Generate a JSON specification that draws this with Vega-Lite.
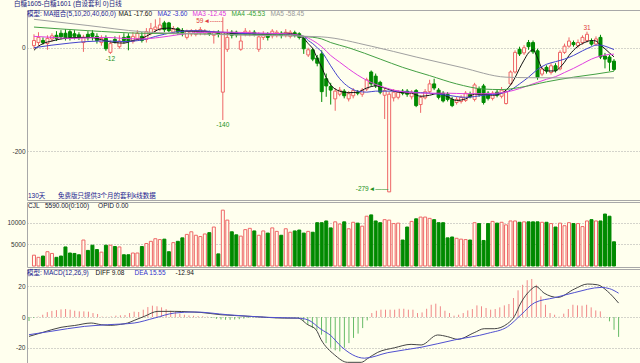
{
"$schema": "https://vega.github.io/schema/vega-lite/v6.json",
"autosize": {"type": "pad"},
"padding": {"left": 6, "top": 1, "right": 0, "bottom": 0},
"background": "#FFFFEE",
"title": {"text": "白糖1605-白糖1601 (自设套利 0)日线", "anchor": "start", "frame": "group", "dx": -13, "offset": 2, "fontSize": 6.5, "fontWeight": "normal", "color": "#1a1a80", "font": "Liberation Sans, Noto Sans CJK SC"},
"spacing": 0,
"resolve": {"scale": {"y": "independent", "color": "independent"}, "legend": {"color": "independent"}},
"datasets": {
"k": [
{"i":0,"o":4,"c":14,"h":26,"l":-2,"v":2500,"m":-2.6},
{"i":1,"o":10,"c":20,"h":30,"l":4,"v":2000,"m":-0.5},
{"i":2,"o":14,"c":10,"h":20,"l":6,"v":2300,"m":0.3},
{"i":3,"o":8,"c":18,"h":24,"l":-4,"v":3300,"m":1.5},
{"i":4,"o":17,"c":23,"h":28,"l":12,"v":2900,"m":3.2},
{"i":5,"o":24,"c":18,"h":32,"l":13,"v":2000,"m":4},
{"i":6,"o":28,"c":21,"h":34,"l":16,"v":2300,"m":4.5},
{"i":7,"o":28,"c":19,"h":36,"l":14,"v":4400,"m":5},
{"i":8,"o":31,"c":20,"h":35,"l":14,"v":3000,"m":5.2},
{"i":9,"o":27,"c":22,"h":34,"l":16,"v":2900,"m":4.8},
{"i":10,"o":25,"c":20,"h":30,"l":15,"v":2600,"m":4.1},
{"i":11,"o":10,"c":20,"h":25,"l":-8,"v":6000,"m":3.7},
{"i":12,"o":26,"c":19,"h":32,"l":14,"v":3600,"m":3.7},
{"i":13,"o":28,"c":22,"h":34,"l":14,"v":4800,"m":3.5},
{"i":14,"o":22,"c":14,"h":28,"l":8,"v":3800,"m":2.6},
{"i":15,"o":10,"c":18,"h":24,"l":4,"v":3200,"m":2.0},
{"i":16,"o":18,"c":-2,"h":24,"l":-6,"v":4800,"m":0.3},
{"i":17,"o":-9,"c":8,"h":14,"l":-12,"v":4800,"m":0.2},
{"i":18,"o":16,"c":12,"h":22,"l":8,"v":4500,"m":0.4},
{"i":19,"o":2,"c":13,"h":24,"l":-2,"v":4400,"m":0.9},
{"i":20,"o":20,"c":14,"h":28,"l":8,"v":2600,"m":1.1},
{"i":21,"o":22,"c":12,"h":28,"l":-5,"v":2600,"m":1.3},
{"i":22,"o":12,"c":22,"h":30,"l":8,"v":3000,"m":2.6},
{"i":23,"o":18,"c":28,"h":34,"l":14,"v":3000,"m":3.5},
{"i":24,"o":22,"c":14,"h":30,"l":10,"v":4500,"m":3.3},
{"i":25,"o":16,"c":31,"h":38,"l":10,"v":5200,"m":4.8},
{"i":26,"o":28,"c":37,"h":48,"l":24,"v":5700,"m":6.5},
{"i":27,"o":35,"c":40,"h":55,"l":30,"v":6300,"m":7.4},
{"i":28,"o":36,"c":44,"h":58,"l":32,"v":6100,"m":7},
{"i":29,"o":48,"c":35,"h":52,"l":30,"v":6200,"m":6.3},
{"i":30,"o":48,"c":33,"h":50,"l":30,"v":3300,"m":5.2},
{"i":31,"o":30,"c":36,"h":42,"l":26,"v":5400,"m":4.1},
{"i":32,"o":37,"c":30,"h":40,"l":25,"v":5700,"m":3.3},
{"i":33,"o":33,"c":27,"h":38,"l":22,"v":6500,"m":2.2},
{"i":34,"o":20,"c":32,"h":35,"l":16,"v":7300,"m":1.5},
{"i":35,"o":27,"c":33,"h":36,"l":22,"v":7900,"m":1},
{"i":36,"o":26,"c":32,"h":36,"l":22,"v":7100,"m":0.8},
{"i":37,"o":29,"c":35,"h":40,"l":24,"v":6800,"m":0.6},
{"i":38,"o":28,"c":32,"h":36,"l":24,"v":7400,"m":0.5},
{"i":39,"o":30,"c":27,"h":33,"l":23,"v":7700,"m":0.3},
{"i":40,"o":24,"c":30,"h":33,"l":8,"v":9000,"m":-0.5},
{"i":41,"o":30,"c":26,"h":34,"l":20,"v":2800,"m":-1.2},
{"i":42,"o":-86,"c":30,"h":59,"l":-140,"v":12900,"m":-1.6},
{"i":43,"o":-3,"c":20,"h":36,"l":-8,"v":10600,"m":-1.8},
{"i":44,"o":30,"c":24,"h":34,"l":18,"v":7900,"m":-1.8},
{"i":45,"o":30,"c":25,"h":33,"l":20,"v":7200,"m":-1.6},
{"i":46,"o":-3,"c":13,"h":30,"l":-6,"v":6900,"m":-1.4},
{"i":47,"o":26,"c":32,"h":38,"l":22,"v":8400,"m":-1.0},
{"i":48,"o":27,"c":30,"h":34,"l":22,"v":8700,"m":-0.5},
{"i":49,"o":30,"c":26,"h":34,"l":22,"v":8100,"m":-0.3},
{"i":50,"o":-3,"c":21,"h":30,"l":-8,"v":7100,"m":0.2},
{"i":51,"o":20,"c":26,"h":32,"l":15,"v":8100,"m":0.3},
{"i":52,"o":27,"c":20,"h":30,"l":14,"v":7600,"m":-0.3},
{"i":53,"o":23,"c":32,"h":36,"l":18,"v":8800,"m":-0.6},
{"i":54,"o":24,"c":30,"h":34,"l":20,"v":8000,"m":-0.8},
{"i":55,"o":28,"c":24,"h":32,"l":18,"v":7100,"m":-0.5},
{"i":56,"o":24,"c":30,"h":36,"l":20,"v":8600,"m":-0.3},
{"i":57,"o":22,"c":30,"h":34,"l":18,"v":7800,"m":-0.2},
{"i":58,"o":29,"c":24,"h":33,"l":20,"v":8100,"m":-0.3},
{"i":59,"o":27,"c":20,"h":30,"l":16,"v":8300,"m":-0.6},
{"i":60,"o":18,"c":-2,"h":22,"l":-12,"v":7600,"m":-2.5},
{"i":61,"o":-14,"c":-4,"h":0,"l":-18,"v":8000,"m":-5},
{"i":62,"o":-4,"c":-22,"h":0,"l":-26,"v":7800,"m":-7.2},
{"i":63,"o":-20,"c":-30,"h":-14,"l":-36,"v":10000,"m":-8.3},
{"i":64,"o":-12,"c":-85,"h":-5,"l":-105,"v":10000,"m":-11.5},
{"i":65,"o":-60,"c":-74,"h":-50,"l":-95,"v":10400,"m":-17},
{"i":66,"o":-75,"c":-82,"h":-68,"l":-110,"v":8800,"m":-20},
{"i":67,"o":-99,"c":-84,"h":-78,"l":-122,"v":10200,"m":-21.7},
{"i":68,"o":-90,"c":-82,"h":-76,"l":-94,"v":9700,"m":-22.4},
{"i":69,"o":-84,"c":-93,"h":-80,"l":-98,"v":10200,"m":-20},
{"i":70,"o":-99,"c":-89,"h":-84,"l":-104,"v":8600,"m":-17},
{"i":71,"o":-93,"c":-83,"h":-78,"l":-98,"v":10100,"m":-13.6},
{"i":72,"o":-86,"c":-88,"h":-82,"l":-92,"v":9900,"m":-10.8},
{"i":73,"o":-90,"c":-82,"h":-78,"l":-95,"v":9200,"m":-7.2},
{"i":74,"o":-80,"c":-62,"h":-58,"l":-84,"v":11500,"m":-2.2},
{"i":75,"o":-47,"c":-70,"h":-44,"l":-74,"v":11800,"m":2.6},
{"i":76,"o":-55,"c":-73,"h":-50,"l":-78,"v":10400,"m":4.1},
{"i":77,"o":-67,"c":-86,"h":-64,"l":-90,"v":10000,"m":4.8},
{"i":78,"o":-92,"c":-83,"h":-78,"l":-138,"v":10700,"m":4.8},
{"i":79,"o":-279,"c":-90,"h":-85,"l":-279,"v":10600,"m":4.8},
{"i":80,"o":-97,"c":-86,"h":-80,"l":-104,"v":9800,"m":4.8},
{"i":81,"o":-96,"c":-86,"h":-82,"l":-100,"v":9900,"m":5.4},
{"i":82,"o":-84,"c":-88,"h":-80,"l":-92,"v":6000,"m":5.4},
{"i":83,"o":-84,"c":-90,"h":-80,"l":-95,"v":9000,"m":4.8},
{"i":84,"o":-95,"c":-86,"h":-82,"l":-100,"v":10300,"m":4.8},
{"i":85,"o":-83,"c":-112,"h":-80,"l":-115,"v":10900,"m":2.6},
{"i":86,"o":-110,"c":-96,"h":-92,"l":-126,"v":11300,"m":3},
{"i":87,"o":-97,"c":-85,"h":-80,"l":-100,"v":11300,"m":5.4},
{"i":88,"o":-85,"c":-70,"h":-62,"l":-88,"v":11000,"m":8},
{"i":89,"o":-70,"c":-78,"h":-60,"l":-82,"v":10700,"m":8.7},
{"i":90,"o":-82,"c":-96,"h":-78,"l":-100,"v":10000,"m":7},
{"i":91,"o":-88,"c":-103,"h":-84,"l":-106,"v":10000,"m":4.1},
{"i":92,"o":-90,"c":-100,"h":-86,"l":-104,"v":6500,"m":2.6},
{"i":93,"o":-100,"c":-112,"h":-95,"l":-115,"v":6700,"m":0.9},
{"i":94,"o":-106,"c":-100,"h":-95,"l":-110,"v":6400,"m":1.5},
{"i":95,"o":-104,"c":-96,"h":-92,"l":-108,"v":6200,"m":2.6},
{"i":96,"o":-102,"c":-88,"h":-84,"l":-105,"v":6100,"m":4.3},
{"i":97,"o":-90,"c":-95,"h":-85,"l":-98,"v":6000,"m":5.2},
{"i":98,"o":-100,"c":-72,"h":-68,"l":-104,"v":10000,"m":7.6},
{"i":99,"o":-80,"c":-90,"h":-75,"l":-95,"v":9800,"m":7},
{"i":100,"o":-74,"c":-106,"h":-70,"l":-110,"v":5900,"m":5.9},
{"i":101,"o":-88,"c":-98,"h":-84,"l":-102,"v":9800,"m":4.8},
{"i":102,"o":-98,"c":-88,"h":-84,"l":-102,"v":10300,"m":5.2},
{"i":103,"o":-86,"c":-92,"h":-80,"l":-96,"v":9900,"m":6.3},
{"i":104,"o":-94,"c":-82,"h":-76,"l":-98,"v":10100,"m":7.6},
{"i":105,"o":-108,"c":-85,"h":-80,"l":-110,"v":9500,"m":8.5},
{"i":106,"o":-70,"c":-47,"h":-44,"l":-72,"v":10400,"m":12.4},
{"i":107,"o":-47,"c":-9,"h":-5,"l":-50,"v":10400,"m":17.4},
{"i":108,"o":-3,"c":-12,"h":2,"l":-16,"v":10100,"m":21},
{"i":109,"o":-10,"c":0,"h":5,"l":-14,"v":10200,"m":24},
{"i":110,"o":10,"c":2,"h":15,"l":-4,"v":10200,"m":24.8},
{"i":111,"o":10,"c":-8,"h":14,"l":-12,"v":10200,"m":21},
{"i":112,"o":-6,"c":-57,"h":-2,"l":-62,"v":10200,"m":13.5},
{"i":113,"o":-51,"c":-41,"h":-36,"l":-55,"v":10100,"m":8},
{"i":114,"o":-38,"c":-45,"h":-34,"l":-50,"v":10100,"m":2.6},
{"i":115,"o":-48,"c":-35,"h":-30,"l":-52,"v":9800,"m":1.5},
{"i":116,"o":-35,"c":-44,"h":-30,"l":-48,"v":9000,"m":0.2},
{"i":117,"o":-41,"c":-9,"h":-5,"l":-44,"v":9900,"m":2.2},
{"i":118,"o":-9,"c":3,"h":8,"l":-12,"v":9300,"m":5.2},
{"i":119,"o":3,"c":13,"h":20,"l":0,"v":10000,"m":8},
{"i":120,"o":10,"c":6,"h":14,"l":2,"v":9800,"m":7.6},
{"i":121,"o":4,"c":10,"h":16,"l":0,"v":9800,"m":7.4},
{"i":122,"o":10,"c":20,"h":24,"l":6,"v":9100,"m":8},
{"i":123,"o":14,"c":26,"h":31,"l":10,"v":10400,"m":6.3},
{"i":124,"o":12,"c":7,"h":18,"l":4,"v":10700,"m":4.3},
{"i":125,"o":7,"c":17,"h":22,"l":4,"v":10400,"m":3.7},
{"i":126,"o":20,"c":-18,"h":25,"l":-22,"v":10400,"m":0.1},
{"i":127,"o":-16,"c":-22,"h":-10,"l":-40,"v":12000,"m":-2.8},
{"i":128,"o":-18,"c":-28,"h":-14,"l":-45,"v":11500,"m":-8.3},
{"i":129,"o":-26,"c":-42,"h":-22,"l":-45,"v":5590,"m":-12.94}
],
"ma": [
{"i":0,"k":"MA1","v":-5},{"i":1,"k":"MA1","v":3},{"i":2,"k":"MA1","v":8},{"i":4,"k":"MA1","v":13},{"i":6,"k":"MA1","v":17},{"i":8,"k":"MA1","v":19},{"i":10,"k":"MA1","v":20},{"i":12,"k":"MA1","v":20},{"i":14,"k":"MA1","v":18},{"i":16,"k":"MA1","v":13},{"i":18,"k":"MA1","v":10},{"i":20,"k":"MA1","v":9},{"i":22,"k":"MA1","v":14},{"i":24,"k":"MA1","v":18},{"i":26,"k":"MA1","v":27},{"i":28,"k":"MA1","v":36},{"i":30,"k":"MA1","v":38},{"i":32,"k":"MA1","v":35},{"i":34,"k":"MA1","v":32},{"i":36,"k":"MA1","v":32},{"i":38,"k":"MA1","v":32},{"i":40,"k":"MA1","v":30},{"i":42,"k":"MA1","v":29},{"i":44,"k":"MA1","v":28},{"i":46,"k":"MA1","v":27},{"i":48,"k":"MA1","v":27},{"i":50,"k":"MA1","v":26},{"i":52,"k":"MA1","v":26},{"i":54,"k":"MA1","v":27},{"i":56,"k":"MA1","v":28},{"i":58,"k":"MA1","v":26},{"i":59,"k":"MA1","v":22},{"i":60,"k":"MA1","v":18},{"i":61,"k":"MA1","v":8},{"i":62,"k":"MA1","v":-2},{"i":63,"k":"MA1","v":-20},{"i":64,"k":"MA1","v":-38},{"i":65,"k":"MA1","v":-58},{"i":66,"k":"MA1","v":-72},{"i":67,"k":"MA1","v":-80},{"i":68,"k":"MA1","v":-84},{"i":70,"k":"MA1","v":-87},{"i":72,"k":"MA1","v":-86},{"i":74,"k":"MA1","v":-78},{"i":76,"k":"MA1","v":-74},{"i":78,"k":"MA1","v":-78},{"i":80,"k":"MA1","v":-84},{"i":82,"k":"MA1","v":-87},{"i":84,"k":"MA1","v":-88},{"i":86,"k":"MA1","v":-94},{"i":88,"k":"MA1","v":-92},{"i":90,"k":"MA1","v":-88},{"i":92,"k":"MA1","v":-95},{"i":94,"k":"MA1","v":-102},{"i":96,"k":"MA1","v":-99},{"i":98,"k":"MA1","v":-90},{"i":100,"k":"MA1","v":-90},{"i":102,"k":"MA1","v":-92},{"i":104,"k":"MA1","v":-88},{"i":105,"k":"MA1","v":-82},{"i":106,"k":"MA1","v":-72},{"i":107,"k":"MA1","v":-58},{"i":108,"k":"MA1","v":-40},{"i":109,"k":"MA1","v":-24},{"i":110,"k":"MA1","v":-10},{"i":111,"k":"MA1","v":-4},{"i":112,"k":"MA1","v":-20},{"i":113,"k":"MA1","v":-40},{"i":114,"k":"MA1","v":-45},{"i":116,"k":"MA1","v":-45},{"i":117,"k":"MA1","v":-38},{"i":118,"k":"MA1","v":-28},{"i":119,"k":"MA1","v":-15},{"i":120,"k":"MA1","v":-5},{"i":121,"k":"MA1","v":3},{"i":122,"k":"MA1","v":8},{"i":123,"k":"MA1","v":12},{"i":124,"k":"MA1","v":14},{"i":125,"k":"MA1","v":13},{"i":126,"k":"MA1","v":5},{"i":127,"k":"MA1","v":-2},{"i":128,"k":"MA1","v":-10},{"i":129,"k":"MA1","v":-17.6},
{"i":0,"k":"MA2","v":0},{"i":4,"k":"MA2","v":5},{"i":8,"k":"MA2","v":9},{"i":12,"k":"MA2","v":12},{"i":16,"k":"MA2","v":13},{"i":20,"k":"MA2","v":12},{"i":24,"k":"MA2","v":15},{"i":28,"k":"MA2","v":24},{"i":32,"k":"MA2","v":31},{"i":36,"k":"MA2","v":33},{"i":40,"k":"MA2","v":31},{"i":44,"k":"MA2","v":29},{"i":48,"k":"MA2","v":27},{"i":52,"k":"MA2","v":27},{"i":56,"k":"MA2","v":26},{"i":60,"k":"MA2","v":22},{"i":61,"k":"MA2","v":14},{"i":62,"k":"MA2","v":8},{"i":63,"k":"MA2","v":0},{"i":64,"k":"MA2","v":-8},{"i":66,"k":"MA2","v":-35},{"i":68,"k":"MA2","v":-60},{"i":70,"k":"MA2","v":-76},{"i":72,"k":"MA2","v":-84},{"i":74,"k":"MA2","v":-86},{"i":76,"k":"MA2","v":-84},{"i":80,"k":"MA2","v":-84},{"i":84,"k":"MA2","v":-86},{"i":88,"k":"MA2","v":-88},{"i":92,"k":"MA2","v":-92},{"i":96,"k":"MA2","v":-96},{"i":100,"k":"MA2","v":-92},{"i":104,"k":"MA2","v":-88},{"i":106,"k":"MA2","v":-82},{"i":108,"k":"MA2","v":-70},{"i":110,"k":"MA2","v":-57},{"i":112,"k":"MA2","v":-42},{"i":114,"k":"MA2","v":-32},{"i":116,"k":"MA2","v":-27},{"i":118,"k":"MA2","v":-22},{"i":120,"k":"MA2","v":-15},{"i":122,"k":"MA2","v":-6},{"i":124,"k":"MA2","v":2},{"i":125,"k":"MA2","v":5},{"i":126,"k":"MA2","v":5},{"i":127,"k":"MA2","v":3},{"i":128,"k":"MA2","v":0},{"i":129,"k":"MA2","v":-3.6},
{"i":0,"k":"MA3","v":22},{"i":4,"k":"MA3","v":20},{"i":8,"k":"MA3","v":18},{"i":12,"k":"MA3","v":19},{"i":16,"k":"MA3","v":20},{"i":20,"k":"MA3","v":18},{"i":24,"k":"MA3","v":17},{"i":28,"k":"MA3","v":20},{"i":32,"k":"MA3","v":25},{"i":36,"k":"MA3","v":29},{"i":40,"k":"MA3","v":30},{"i":44,"k":"MA3","v":30},{"i":48,"k":"MA3","v":29},{"i":52,"k":"MA3","v":28},{"i":56,"k":"MA3","v":27},{"i":60,"k":"MA3","v":22},{"i":62,"k":"MA3","v":14},{"i":64,"k":"MA3","v":2},{"i":66,"k":"MA3","v":-15},{"i":68,"k":"MA3","v":-28},{"i":70,"k":"MA3","v":-41},{"i":72,"k":"MA3","v":-53},{"i":74,"k":"MA3","v":-63},{"i":76,"k":"MA3","v":-71},{"i":78,"k":"MA3","v":-77},{"i":80,"k":"MA3","v":-82},{"i":82,"k":"MA3","v":-85},{"i":84,"k":"MA3","v":-87},{"i":88,"k":"MA3","v":-88},{"i":92,"k":"MA3","v":-88},{"i":96,"k":"MA3","v":-89},{"i":100,"k":"MA3","v":-89},{"i":104,"k":"MA3","v":-87},{"i":106,"k":"MA3","v":-84},{"i":108,"k":"MA3","v":-79},{"i":110,"k":"MA3","v":-73},{"i":112,"k":"MA3","v":-67},{"i":114,"k":"MA3","v":-61},{"i":116,"k":"MA3","v":-56},{"i":118,"k":"MA3","v":-48},{"i":120,"k":"MA3","v":-40},{"i":122,"k":"MA3","v":-31},{"i":124,"k":"MA3","v":-22},{"i":126,"k":"MA3","v":-16},{"i":128,"k":"MA3","v":-13},{"i":129,"k":"MA3","v":-12.45},
{"i":0,"k":"MA4","v":40},{"i":12,"k":"MA4","v":33},{"i":24,"k":"MA4","v":28},{"i":36,"k":"MA4","v":27},{"i":48,"k":"MA4","v":25},{"i":56,"k":"MA4","v":25},{"i":60,"k":"MA4","v":22},{"i":64,"k":"MA4","v":17},{"i":66,"k":"MA4","v":10},{"i":70,"k":"MA4","v":0},{"i":77,"k":"MA4","v":-22},{"i":82,"k":"MA4","v":-38},{"i":88,"k":"MA4","v":-54},{"i":94,"k":"MA4","v":-70},{"i":100,"k":"MA4","v":-80},{"i":104,"k":"MA4","v":-81},{"i":108,"k":"MA4","v":-77},{"i":114,"k":"MA4","v":-66},{"i":120,"k":"MA4","v":-57},{"i":125,"k":"MA4","v":-51},{"i":129,"k":"MA4","v":-45.53},
{"i":0,"k":"MA5","v":55},{"i":12,"k":"MA5","v":43},{"i":24,"k":"MA5","v":31},{"i":36,"k":"MA5","v":27},{"i":48,"k":"MA5","v":24},{"i":56,"k":"MA5","v":23},{"i":64,"k":"MA5","v":21},{"i":75,"k":"MA5","v":3},{"i":85,"k":"MA5","v":-18},{"i":95,"k":"MA5","v":-38},{"i":105,"k":"MA5","v":-57},{"i":110,"k":"MA5","v":-58},{"i":120,"k":"MA5","v":-58.5},{"i":129,"k":"MA5","v":-58.45}
],
"md": [
{"i":0,"k":"DIFF","v":-12.6},{"i":3,"k":"DIFF","v":-10},{"i":7,"k":"DIFF","v":-6.7},{"i":10,"k":"DIFF","v":-5.5},{"i":13.6,"k":"DIFF","v":-3.9},{"i":15.8,"k":"DIFF","v":-5},{"i":17.9,"k":"DIFF","v":-5.4},{"i":20,"k":"DIFF","v":-4.8},{"i":21.6,"k":"DIFF","v":-3.9},{"i":23,"k":"DIFF","v":-2.2},{"i":25.2,"k":"DIFF","v":0.4},{"i":28.2,"k":"DIFF","v":3.7},{"i":31.8,"k":"DIFF","v":3.7},{"i":35,"k":"DIFF","v":3.4},{"i":37.6,"k":"DIFF","v":3.0},{"i":42,"k":"DIFF","v":1.5},{"i":45,"k":"DIFF","v":1},{"i":48.6,"k":"DIFF","v":0.4},{"i":52,"k":"DIFF","v":-0.2},{"i":55.9,"k":"DIFF","v":-0.7},{"i":58.8,"k":"DIFF","v":-0.7},{"i":61,"k":"DIFF","v":-5},{"i":62.8,"k":"DIFF","v":-8.2},{"i":63.9,"k":"DIFF","v":-14.7},{"i":66.8,"k":"DIFF","v":-24.5},{"i":69.7,"k":"DIFF","v":-29.5},{"i":72.7,"k":"DIFF","v":-29.5},{"i":74.1,"k":"DIFF","v":-27},{"i":76.3,"k":"DIFF","v":-23},{"i":80,"k":"DIFF","v":-20},{"i":83.6,"k":"DIFF","v":-17.8},{"i":85.8,"k":"DIFF","v":-18.2},{"i":89.4,"k":"DIFF","v":-11.7},{"i":91.6,"k":"DIFF","v":-12.8},{"i":93.8,"k":"DIFF","v":-14.5},{"i":97.4,"k":"DIFF","v":-10.2},{"i":99.6,"k":"DIFF","v":-7.6},{"i":101.8,"k":"DIFF","v":-7.6},{"i":104.7,"k":"DIFF","v":-4.3},{"i":106.2,"k":"DIFF","v":0.4},{"i":107.6,"k":"DIFF","v":9.1},{"i":109.8,"k":"DIFF","v":17.8},{"i":110.9,"k":"DIFF","v":19.9},{"i":112.7,"k":"DIFF","v":15.6},{"i":115.7,"k":"DIFF","v":12.8},{"i":119.3,"k":"DIFF","v":18.2},{"i":122.2,"k":"DIFF","v":21.5},{"i":124.4,"k":"DIFF","v":21},{"i":126.6,"k":"DIFF","v":16.7},{"i":129,"k":"DIFF","v":9.08},
{"i":0,"k":"DEA","v":-11.5},{"i":4.8,"k":"DEA","v":-9.3},{"i":12.1,"k":"DEA","v":-6.1},{"i":17.2,"k":"DEA","v":-5},{"i":23,"k":"DEA","v":-3.9},{"i":27.4,"k":"DEA","v":-0.7},{"i":31.8,"k":"DEA","v":2.6},{"i":36.2,"k":"DEA","v":3.3},{"i":43.5,"k":"DEA","v":1.5},{"i":52.2,"k":"DEA","v":-0.2},{"i":58.8,"k":"DEA","v":-0.7},{"i":61,"k":"DEA","v":-1.8},{"i":63.9,"k":"DEA","v":-8},{"i":66,"k":"DEA","v":-12},{"i":68.3,"k":"DEA","v":-19.2},{"i":73.4,"k":"DEA","v":-26.8},{"i":78.5,"k":"DEA","v":-23.2},{"i":85.8,"k":"DEA","v":-19.7},{"i":93.1,"k":"DEA","v":-14.9},{"i":100.4,"k":"DEA","v":-10.6},{"i":104.7,"k":"DEA","v":-6.3},{"i":107.6,"k":"DEA","v":1.3},{"i":110.6,"k":"DEA","v":9.3},{"i":115,"k":"DEA","v":12.6},{"i":119.3,"k":"DEA","v":15.9},{"i":125.2,"k":"DEA","v":19.3},{"i":127,"k":"DEA","v":18.5},{"i":129,"k":"DEA","v":15.55}
],
"ann": [
{"i":17,"v":-12,"t":"-12","p":"lo"},
{"i":42,"v":-140,"t":"-140","p":"lo"},
{"i":123,"v":31,"t":"31","p":"hi"},
{"i":42,"v":59,"t":"59◄------","p":"hiL"},
{"i":79,"v":-279,"t":"-279◄——","p":"loL"}
]
},
"vconcat": [
{
"width": 614, "height": 190,
"title": {"text": "130天\u00a0\u00a0\u00a0\u00a0\u00a0\u00a0\u00a0免费版只提供3个月的套利k线数据", "orient": "bottom", "anchor": "start", "frame": "group", "offset": -7.5, "dx": 1, "fontSize": 6.5, "fontWeight": "normal", "color": "#1a1a90", "font": "Liberation Sans, Noto Sans CJK SC"},
"layer": [
{"data": {"name": "k"}, "mark": {"type": "rule", "strokeWidth": 1},
 "encoding": {
  "x": {"field": "i", "type": "quantitative", "scale": {"domain": [-0.44, 133.9], "nice": false, "zero": false}, "axis": null},
  "y": {"field": "l", "type": "quantitative", "scale": {"domain": [-294.7, 73], "nice": false, "zero": false}, "axis": {"values": [0, -200], "grid": true, "title": null, "labelExpr": "'' + datum.value"}},
  "y2": {"field": "h"},
  "color": {"condition": {"test": "datum.c >= datum.o", "value": "#EE6666"}, "value": "#008A00"}}},
{"data": {"name": "k"}, "mark": {"type": "bar", "size": 3, "strokeWidth": 1},
 "encoding": {
  "x": {"field": "i", "type": "quantitative"},
  "y": {"field": "o", "type": "quantitative"},
  "y2": {"field": "c"},
  "fill": {"condition": {"test": "datum.c >= datum.o", "value": "#FFFFEE"}, "value": "#008A00"},
  "stroke": {"condition": {"test": "datum.c >= datum.o", "value": "#EE6666"}, "value": "#008A00"}}},
{"data": {"name": "ma"}, "mark": {"type": "line", "strokeWidth": 1, "interpolate": "monotone"},
 "encoding": {
  "x": {"field": "i", "type": "quantitative"},
  "y": {"field": "v", "type": "quantitative"},
  "color": {"field": "k", "type": "nominal",
   "scale": {"domain": ["MA1", "MA2", "MA3", "MA4", "MA5"], "range": ["#111111", "#4444CC", "#E040E0", "#44A044", "#A0A0A0"]},
   "legend": {"orient": "none", "legendX": 0, "legendY": 1, "direction": "horizontal", "gridAlign": "none", "title": "模型: MA组合(5,10,20,40,60,0)", "titleOrient": "left", "titleFontSize": 6.5, "titleFontWeight": "normal", "titleColor": "#1a1a90", "titleFont": "Liberation Sans, Noto Sans CJK SC", "titlePadding": -4, "labelFontSize": 6.5, "labelFont": "Liberation Sans Narrow, Liberation Sans", "labelOffset": 0, "symbolSize": 0, "symbolStrokeWidth": 0, "symbolOpacity": 0, "columnPadding": -2, "padding": 0,
    "labelExpr": "datum.label == 'MA1' ? 'MA1 -17.60' : datum.label == 'MA2' ? 'MA2 -3.60' : datum.label == 'MA3' ? 'MA3 -12.45' : datum.label == 'MA4' ? 'MA4 -45.53' : 'MA5 -58.45'",
    "labelColor": {"expr": "datum.value == 'MA1' ? '#111111' : datum.value == 'MA2' ? '#3333CC' : datum.value == 'MA3' ? '#E030E0' : datum.value == 'MA4' ? '#30A030' : '#999999'"}}}}},
{"data": {"name": "ann"}, "transform": [{"filter": "datum.p == 'lo'"}], "mark": {"type": "text", "baseline": "top", "dy": 2, "fontSize": 6.5, "font": "Liberation Sans", "color": "#209020"},
 "encoding": {"x": {"field": "i", "type": "quantitative"}, "y": {"field": "v", "type": "quantitative"}, "text": {"field": "t"}}},
{"data": {"name": "ann"}, "transform": [{"filter": "datum.p == 'hi'"}], "mark": {"type": "text", "baseline": "bottom", "dy": -1, "fontSize": 6.5, "font": "Liberation Sans", "color": "#E04040"},
 "encoding": {"x": {"field": "i", "type": "quantitative"}, "y": {"field": "v", "type": "quantitative"}, "text": {"field": "t"}}},
{"data": {"name": "ann"}, "transform": [{"filter": "datum.p == 'hiL'"}], "mark": {"type": "text", "align": "right", "baseline": "middle", "dy": 4, "fontSize": 6.5, "font": "Liberation Sans, DejaVu Sans", "color": "#E04040"},
 "encoding": {"x": {"field": "i", "type": "quantitative"}, "y": {"field": "v", "type": "quantitative"}, "text": {"field": "t"}}},
{"data": {"name": "ann"}, "transform": [{"filter": "datum.p == 'loL'"}], "mark": {"type": "text", "align": "right", "baseline": "middle", "dx": -1, "dy": -3, "fontSize": 6.5, "font": "Liberation Sans, DejaVu Sans", "color": "#209020"},
 "encoding": {"x": {"field": "i", "type": "quantitative"}, "y": {"field": "v", "type": "quantitative"}, "text": {"field": "t"}}}
]
},
{
"width": 614, "height": 65,
"title": {"text": "CJL\u00a0\u00a0\u00a05590.00(0:100)\u00a0\u00a0\u00a0\u00a0\u00a0OPID 0.00", "anchor": "start", "frame": "group", "offset": -7.5, "dx": 1, "fontSize": 6.5, "fontWeight": "normal", "color": "#101030", "font": "Liberation Sans"},
"data": {"name": "k"},
"mark": {"type": "bar", "size": 3, "strokeWidth": 1},
"encoding": {
 "x": {"field": "i", "type": "quantitative", "scale": {"domain": [-0.44, 133.9], "nice": false, "zero": false}, "axis": null},
 "y": {"field": "v", "type": "quantitative", "scale": {"domain": [-230, 14780], "nice": false, "zero": false}, "axis": {"values": [5000, 10000], "grid": true, "title": null, "labelExpr": "'' + datum.value"}},
 "y2": {"datum": 0},
 "fill": {"condition": {"test": "datum.c >= datum.o", "value": "#FFFFEE"}, "value": "#008A00"},
 "stroke": {"condition": {"test": "datum.c >= datum.o", "value": "#EE6666"}, "value": "#008A00"}}
},
{
"width": 614, "height": 97,
"layer": [
{"data": {"name": "k"}, "mark": {"type": "rule", "strokeWidth": 1},
 "encoding": {
  "x": {"field": "i", "type": "quantitative", "scale": {"domain": [-0.44, 133.9], "nice": false, "zero": false}, "axis": null},
  "y": {"field": "m", "type": "quantitative", "scale": {"domain": [-31.9, 31.3], "nice": false, "zero": false}, "axis": {"values": [-20, 0, 20], "grid": true, "title": null, "labelExpr": "'' + datum.value"}},
  "y2": {"datum": 0},
  "color": {"condition": {"test": "datum.m >= 0", "value": "#F08888"}, "value": "#66BB66"}}},
{"data": {"name": "md"}, "mark": {"type": "line", "strokeWidth": 1, "interpolate": "monotone"},
 "encoding": {
  "x": {"field": "i", "type": "quantitative"},
  "y": {"field": "v", "type": "quantitative"},
  "color": {"field": "k", "type": "nominal",
   "scale": {"domain": ["DIFF", "DEA", "MACD"], "range": ["#444444", "#5050D0", "#111111"]},
   "legend": {"orient": "none", "legendX": 0, "legendY": 1, "direction": "horizontal", "gridAlign": "none", "title": "模型: MACD(12,26,9)", "titleOrient": "left", "titleFontSize": 6.5, "titleFontWeight": "normal", "titleColor": "#1a1a90", "titleFont": "Liberation Sans, Noto Sans CJK SC", "titlePadding": 0, "labelFontSize": 6.5, "labelFont": "Liberation Sans Narrow, Liberation Sans", "labelOffset": 0, "symbolSize": 0, "symbolStrokeWidth": 0, "symbolOpacity": 0, "columnPadding": 3, "padding": 0,
    "labelExpr": "datum.label == 'DIFF' ? 'DIFF 9.08' : datum.label == 'DEA' ? 'DEA 15.55' : '-12.94'",
    "labelColor": {"expr": "datum.value == 'DEA' ? '#3333CC' : '#111111'"}}}}}
]
}
],
"config": {
 "view": {"fill": "#FFFFEE", "stroke": "#A8A8A8", "strokeWidth": 1},
 "axis": {"domain": false, "ticks": false, "labelFontSize": 6.5, "labelFont": "Liberation Sans", "labelColor": "#333333", "labelPadding": 2, "gridColor": "#A8A8A8", "gridDash": [1, 2], "gridWidth": 1}
}
}
